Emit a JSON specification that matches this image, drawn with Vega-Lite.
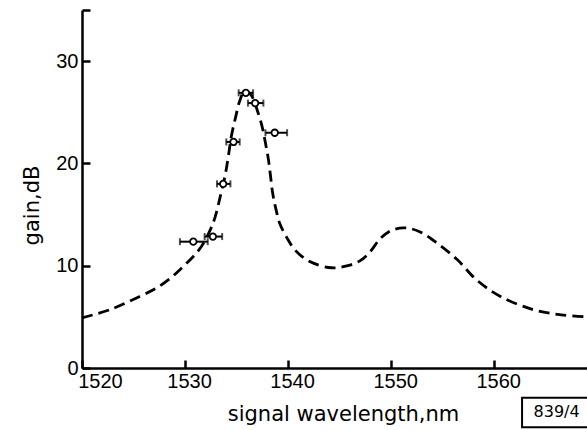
{
  "$schema": "https://vega.github.io/schema/vega-lite/v6.json",
  "width": 505,
  "height": 358,
  "autosize": {"type": "none"},
  "padding": {"left": 82, "top": 10, "right": 0, "bottom": 62},
  "background": "white",
  "config": {
    "view": {"stroke": null},
    "font": "Liberation Sans",
    "axis": {"grid": false, "domainColor": "black", "tickColor": "black", "labelColor": "black", "titleColor": "black", "domainWidth": 2.5, "tickWidth": 2.5}
  },
  "datasets": {
    "curve": [
      {"wl": 1520.0, "gain": 4.9},
      {"wl": 1522.7, "gain": 5.7},
      {"wl": 1525.6, "gain": 7.0},
      {"wl": 1527.2, "gain": 7.8},
      {"wl": 1528.6, "gain": 8.8},
      {"wl": 1529.8, "gain": 9.9},
      {"wl": 1530.8, "gain": 10.9},
      {"wl": 1531.6, "gain": 11.9},
      {"wl": 1532.4, "gain": 13.4},
      {"wl": 1532.9, "gain": 14.7},
      {"wl": 1533.4, "gain": 16.7},
      {"wl": 1533.9, "gain": 18.9},
      {"wl": 1534.2, "gain": 20.7},
      {"wl": 1534.5, "gain": 22.7},
      {"wl": 1534.9, "gain": 24.5},
      {"wl": 1535.3, "gain": 26.1},
      {"wl": 1535.8, "gain": 27.1},
      {"wl": 1536.4, "gain": 26.7},
      {"wl": 1537.1, "gain": 24.9},
      {"wl": 1537.5, "gain": 23.5},
      {"wl": 1537.8, "gain": 22.0},
      {"wl": 1538.1, "gain": 20.3},
      {"wl": 1538.3, "gain": 18.7},
      {"wl": 1538.5, "gain": 17.1},
      {"wl": 1538.8, "gain": 15.6},
      {"wl": 1539.2, "gain": 14.1},
      {"wl": 1539.9, "gain": 12.7},
      {"wl": 1540.7, "gain": 11.5},
      {"wl": 1542.1, "gain": 10.4},
      {"wl": 1544.2, "gain": 9.8},
      {"wl": 1545.8, "gain": 10.0},
      {"wl": 1547.0, "gain": 10.5},
      {"wl": 1547.9, "gain": 11.3},
      {"wl": 1548.9, "gain": 12.6},
      {"wl": 1549.9, "gain": 13.4},
      {"wl": 1551.2, "gain": 13.7},
      {"wl": 1552.6, "gain": 13.4},
      {"wl": 1554.2, "gain": 12.4},
      {"wl": 1556.4, "gain": 10.6},
      {"wl": 1558.3, "gain": 8.6},
      {"wl": 1560.6, "gain": 7.0},
      {"wl": 1563.8, "gain": 5.7},
      {"wl": 1566.5, "gain": 5.2},
      {"wl": 1569.0, "gain": 5.0}
    ],
    "pts": [
      {"wl": 1530.8, "gain": 12.35, "lo": 1529.5, "hi": 1532.2},
      {"wl": 1532.7, "gain": 12.85, "lo": 1531.9, "hi": 1533.6},
      {"wl": 1533.7, "gain": 18.0, "lo": 1533.1, "hi": 1534.4},
      {"wl": 1534.7, "gain": 22.1, "lo": 1534.0, "hi": 1535.3},
      {"wl": 1535.9, "gain": 26.9, "lo": 1535.2, "hi": 1536.6},
      {"wl": 1536.8, "gain": 25.9, "lo": 1536.1, "hi": 1537.6},
      {"wl": 1538.7, "gain": 23.0, "lo": 1537.8, "hi": 1539.9}
    ],
    "box": [
      {"x1": 1562.7, "x2": 1569.4, "y1": -2.9, "y2": -5.8, "xc": 1566.05, "yc": -4.35, "label": "839/4"}
    ]
  },
  "layer": [
    {
      "data": {"name": "curve"},
      "mark": {"type": "line", "color": "black", "strokeWidth": 2.8, "strokeDash": [11, 6], "interpolate": "catmull-rom"},
      "encoding": {
        "x": {
          "field": "wl", "type": "quantitative",
          "scale": {"domain": [1520, 1569], "nice": false, "zero": false},
          "axis": {
            "values": [1520, 1530, 1540, 1550, 1560],
            "format": "d",
            "tickSize": -8,
            "labelFontSize": 20,
            "labelPadding": 11,
            "labelOffset": {"condition": {"test": "datum.value == 1520", "value": 18}, "value": 4},
            "labelFlush": false,
            "labelOverlap": false,
            "title": "signal wavelength,nm",
            "titleFont": "DejaVu Sans",
            "titleFontSize": 21,
            "titleFontWeight": "normal",
            "titleX": 261,
            "titleY": 46,
            "titleBaseline": "middle",
            "titleAlign": "center",
            "titleAnchor": null
          }
        },
        "y": {
          "field": "gain", "type": "quantitative",
          "scale": {"domain": [0, 35], "nice": false, "zero": true},
          "axis": {
            "values": [0, 10, 20, 30, 35],
            "labelExpr": "datum.value == 35 ? '' : datum.label",
            "tickSize": -8,
            "labelFontSize": 20,
            "labelPadding": 12,
            "labelFlush": false,
            "labelOverlap": false,
            "title": "gain,dB",
            "titleFont": "DejaVu Sans",
            "titleFontSize": 21,
            "titleFontWeight": "normal",
            "titleX": -50,
            "titleY": 195,
            "titleAngle": -90,
            "titleBaseline": "middle",
            "titleAlign": "center",
            "titleAnchor": null
          }
        }
      }
    },
    {
      "data": {"name": "pts"},
      "mark": {"type": "rule", "color": "black", "strokeWidth": 2},
      "encoding": {
        "x": {"field": "lo", "type": "quantitative"},
        "x2": {"field": "hi"},
        "y": {"field": "gain", "type": "quantitative"}
      }
    },
    {
      "data": {"name": "pts"},
      "mark": {"type": "tick", "orient": "vertical", "color": "black", "thickness": 2, "size": 7},
      "encoding": {
        "x": {"field": "lo", "type": "quantitative"},
        "y": {"field": "gain", "type": "quantitative"}
      }
    },
    {
      "data": {"name": "pts"},
      "mark": {"type": "tick", "orient": "vertical", "color": "black", "thickness": 2, "size": 7},
      "encoding": {
        "x": {"field": "hi", "type": "quantitative"},
        "y": {"field": "gain", "type": "quantitative"}
      }
    },
    {
      "data": {"name": "pts"},
      "mark": {"type": "point", "shape": "circle", "filled": true, "fill": "white", "stroke": "black", "strokeWidth": 1.8, "size": 42, "opacity": 1},
      "encoding": {
        "x": {"field": "wl", "type": "quantitative"},
        "y": {"field": "gain", "type": "quantitative"}
      }
    },
    {
      "data": {"name": "box"},
      "mark": {"type": "rect", "fill": "white", "stroke": "black", "strokeWidth": 2},
      "encoding": {
        "x": {"field": "x1", "type": "quantitative"},
        "x2": {"field": "x2"},
        "y": {"field": "y1", "type": "quantitative"},
        "y2": {"field": "y2"}
      }
    },
    {
      "data": {"name": "box"},
      "mark": {"type": "text", "color": "black", "fontSize": 16, "align": "center", "baseline": "middle", "font": "DejaVu Sans"},
      "encoding": {
        "x": {"field": "xc", "type": "quantitative"},
        "y": {"field": "yc", "type": "quantitative"},
        "text": {"field": "label"}
      }
    }
  ]
}
